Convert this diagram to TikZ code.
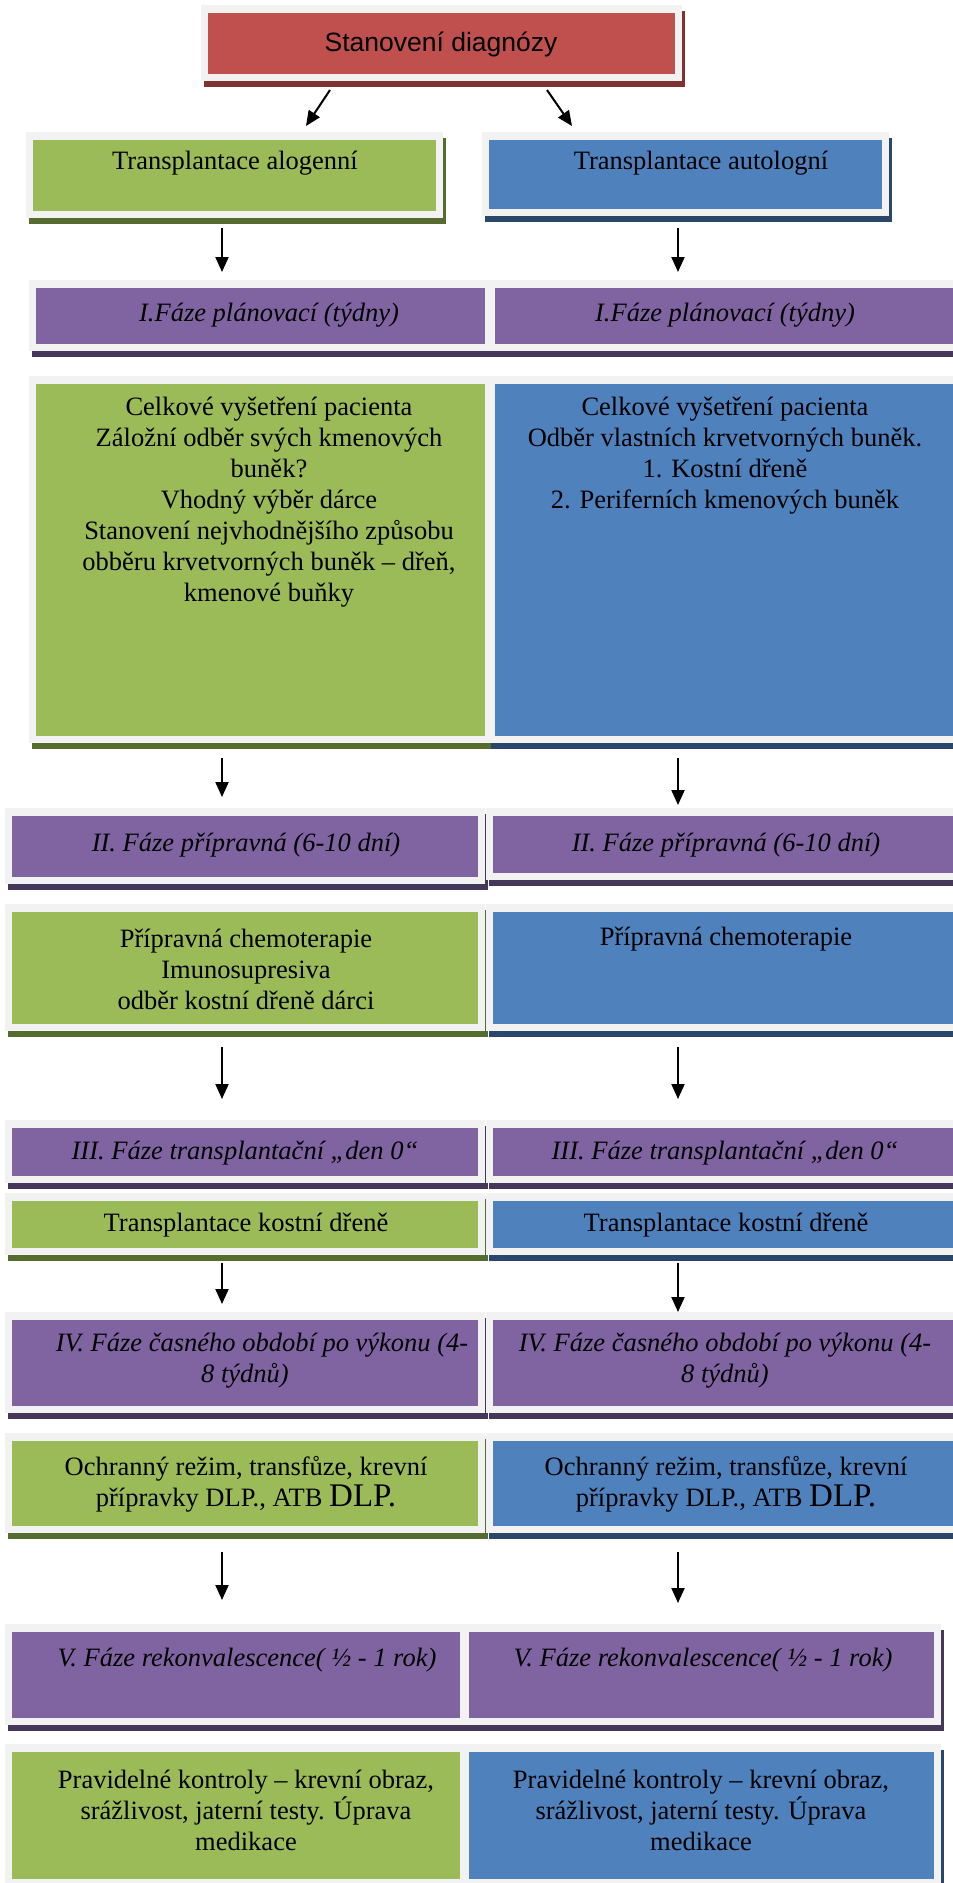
\documentclass[tikz,border=0pt]{standalone}
\usepackage{fontspec}
\setmainfont{Liberation Serif}
\newfontfamily\titlesans{Liberation Sans}
\usetikzlibrary{arrows.meta}
\definecolor{cred}{HTML}{C0504D}
\definecolor{credD}{HTML}{7F3230}
\definecolor{cgreen}{HTML}{9BBB59}
\definecolor{cgreenD}{HTML}{556B2F}
\definecolor{cblue}{HTML}{4F81BD}
\definecolor{cblueD}{HTML}{2A4669}
\definecolor{cpurple}{HTML}{8064A2}
\definecolor{cpurpleD}{HTML}{45375A}
\definecolor{cframe}{HTML}{F2F2F2}
\newcommand\mkcard[7]{%
  \pgfmathsetmacro\mkW{#4-#2-14}%
  \pgfmathsetmacro\mkH{#5-#3-15}%
  \pgfmathsetmacro\mkX{(#2+#4)/2}%
  \pgfmathsetmacro\mkY{#3+8+(#5-#3-15)/2}%
  \fill[#7] (#2+3,#3+6) rectangle (#4+3,#5+6);
  \fill[graybox] (#2,#3) rectangle (#4,#5);
  \node[cardbox, fill=#6, minimum width=\mkW pt, minimum height=\mkH pt] (#1) at (\mkX,\mkY) {};
}
\begin{document}
\begin{tikzpicture}[x=1pt,y=-1pt,
  graybox/.style={fill=cframe},
  cardbox/.style={rectangle, draw=none, inner sep=0pt, outer sep=0pt},
  txt/.style={align=center, inner sep=0pt, font=\fontsize{26.5}{31}\selectfont},
  ph/.style={align=center, inner sep=0pt, font=\fontsize{26.5}{31}\selectfont\itshape},
  sans/.style={inner sep=0pt, font=\fontsize{26.5}{31}\selectfont\titlesans},
  arr/.style={-{Triangle[length=15pt,width=13pt]}, line width=2pt, black}]
\useasboundingbox (0,0) rectangle (953,1883);
\fill[white] (0,0) rectangle (953,1883);

% boxes
\mkcard{diag}{201}{5}{682}{81}{cred}{credD}
\mkcard{alo}{26}{132}{443}{218}{cgreen}{cgreenD}
\mkcard{auto}{482}{132}{889}{216}{cblue}{cblueD}

\mkcard{f1l}{29}{280}{492}{351}{cpurple}{cpurpleD}
\mkcard{f1r}{488}{280}{975}{351}{cpurple}{cpurpleD}
\mkcard{c1l}{29}{376}{492}{743}{cgreen}{cgreenD}
\mkcard{c1r}{488}{376}{975}{743}{cblue}{cblueD}

\mkcard{f2l}{5}{808}{485}{884}{cpurple}{cpurpleD}
\mkcard{f2r}{486}{808}{975}{880}{cpurple}{cpurpleD}
\mkcard{c2l}{5}{904}{485}{1031}{cgreen}{cgreenD}
\mkcard{c2r}{486}{904}{975}{1031}{cblue}{cblueD}

\mkcard{f3l}{5}{1120}{485}{1183}{cpurple}{cpurpleD}
\mkcard{f3r}{486}{1120}{975}{1183}{cpurple}{cpurpleD}
\mkcard{c3l}{5}{1193}{485}{1255}{cgreen}{cgreenD}
\mkcard{c3r}{486}{1193}{975}{1255}{cblue}{cblueD}

\mkcard{f4l}{5}{1312}{485}{1413}{cpurple}{cpurpleD}
\mkcard{f4r}{486}{1312}{975}{1413}{cpurple}{cpurpleD}
\mkcard{c4l}{5}{1433}{485}{1533}{cgreen}{cgreenD}
\mkcard{c4r}{486}{1433}{975}{1533}{cblue}{cblueD}

\mkcard{f5l}{5}{1624}{467}{1725}{cpurple}{cpurpleD}
\mkcard{f5r}{462}{1624}{941}{1725}{cpurple}{cpurpleD}
\mkcard{c5l}{5}{1744}{467}{1886}{cgreen}{cgreenD}
\mkcard{c5r}{462}{1744}{941}{1886}{cblue}{cblueD}

% texts
\node[sans] (tdiag) at (441,44) {Stanovení diagnózy};
\node[txt] (talo) at (235,163) {Transplantace alogenní};
\node[txt] (tauto) at (701,163) {Transplantace autologní};

\node[ph] (tf1l) at (269,315) {I.Fáze plánovací (týdny)};
\node[ph] (tf1r) at (725,315) {I.Fáze plánovací (týdny)};
\node[txt] (tc1l) at (269,502) {Celkové vyšetření pacienta\\Záložní odběr svých kmenových\\buněk?\\Vhodný výběr dárce\\Stanovení nejvhodnějšího způsobu\\obběru krvetvorných buněk – dřeň,\\kmenové buňky};
\node[txt] (tc1r) at (725,456) {Celkové vyšetření pacienta\\Odběr vlastních krvetvorných buněk.\\1. Kostní dřeně\\2. Periferních kmenových buněk};

\node[ph] (tf2l) at (246,845) {II. Fáze přípravná (6-10 dní)};
\node[ph] (tf2r) at (726,845) {II. Fáze přípravná (6-10 dní)};
\node[txt] (tc2l) at (246,969) {Přípravná chemoterapie\\Imunosupresiva\\odběr kostní dřeně dárci};
\node[txt] (tc2r) at (726,939) {Přípravná chemoterapie};

\node[ph] (tf3l) at (245,1153) {III. Fáze transplantační „den 0“};
\node[ph] (tf3r) at (725,1153) {III. Fáze transplantační „den 0“};
\node[txt] (tc3l) at (246,1225) {Transplantace kostní dřeně};
\node[txt] (tc3r) at (726,1225) {Transplantace kostní dřeně};

\node[ph] (tf4l) at (245,1361) {\hspace*{34pt}IV. Fáze časného období po výkonu (4-\\8 týdnů)};
\node[ph] (tf4r) at (725,1361) {IV. Fáze časného období po výkonu (4-\\8 týdnů)};
\node[txt] (tc4l) at (246,1484) {Ochranný režim, transfůze, krevní\\přípravky DLP., ATB {\fontsize{33}{31}\selectfont DLP.}};
\node[txt] (tc4r) at (726,1484) {Ochranný režim, transfůze, krevní\\přípravky DLP., ATB {\fontsize{33}{31}\selectfont DLP.}};

\node[ph] (tf5l) at (247,1660) {V. Fáze rekonvalescence( ½ - 1 rok)};
\node[ph] (tf5r) at (703,1660) {V. Fáze rekonvalescence( ½ - 1 rok)};
\node[txt] (tc5l) at (246,1810) {Pravidelné kontroly – krevní obraz,\\srážlivost, jaterní testy. Úprava\\medikace};
\node[txt] (tc5r) at (701,1810) {Pravidelné kontroly – krevní obraz,\\srážlivost, jaterní testy. Úprava\\medikace};

% arrow end points
\coordinate (d1s) at (330,90);  \coordinate (d1e) at (306,126);
\coordinate (d2s) at (547,90);  \coordinate (d2e) at (572,126);
\coordinate (a1s) at (222,228); \coordinate (a1e) at (222,272);
\coordinate (b1s) at (678,228); \coordinate (b1e) at (678,272);
\coordinate (a2s) at (222,758); \coordinate (a2e) at (222,797);
\coordinate (b2s) at (678,758); \coordinate (b2e) at (678,805);
\coordinate (a3s) at (222,1047); \coordinate (a3e) at (222,1099);
\coordinate (b3s) at (678,1047); \coordinate (b3e) at (678,1099);
\coordinate (a4s) at (222,1263); \coordinate (a4e) at (222,1304);
\coordinate (b4s) at (678,1263); \coordinate (b4e) at (678,1312);
\coordinate (a5s) at (222,1552); \coordinate (a5e) at (222,1600);
\coordinate (b5s) at (678,1552); \coordinate (b5e) at (678,1603);

\draw[arr] (d1s) -- (d1e);
\draw[arr] (d2s) -- (d2e);
\draw[arr] (a1s) -- (a1e);
\draw[arr] (b1s) -- (b1e);
\draw[arr] (a2s) -- (a2e);
\draw[arr] (b2s) -- (b2e);
\draw[arr] (a3s) -- (a3e);
\draw[arr] (b3s) -- (b3e);
\draw[arr] (a4s) -- (a4e);
\draw[arr] (b4s) -- (b4e);
\draw[arr] (a5s) -- (a5e);
\draw[arr] (b5s) -- (b5e);
\end{tikzpicture}
\end{document}
